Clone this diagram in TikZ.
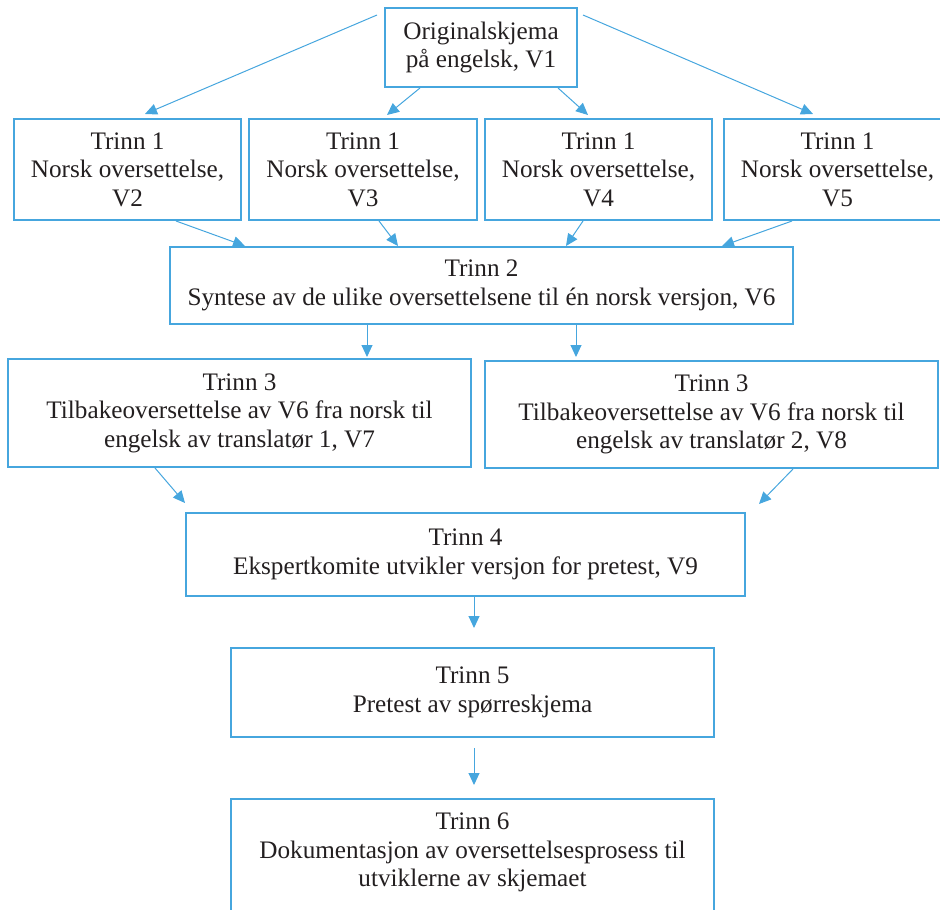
\documentclass[tikz,border=0pt]{standalone}
\usepackage{fontspec}
\setmainfont{Liberation Serif}
\usetikzlibrary{arrows.meta,calc}
\definecolor{flowblue}{RGB}{70,166,222}
\definecolor{inktext}{RGB}{35,31,32}
\begin{document}
\begin{tikzpicture}[x=0.5pt,y=-0.5pt,
  stepbox/.style={draw=flowblue,line width=1pt,align=center,text=inktext,
    font=\fontsize{12.6}{14.25}\selectfont,inner sep=0pt},
  flow/.style={draw=flowblue,line width=0.5pt,-{Triangle[length=6pt,width=5.5pt]}}]
\useasboundingbox (0,0) rectangle (940,909);
\clip (0,0) rectangle (940,909);
\node[stepbox,minimum width=96pt,minimum height=39.5pt] (v1) at (481,47.5)
  {Originalskjema\\på engelsk, V1};
\node[stepbox,minimum width=113.5pt,minimum height=50.5pt] (v2) at (127.5,169.5)
  {Trinn 1\\Norsk oversettelse,\\V2};
\node[stepbox,minimum width=114pt,minimum height=50.5pt] (v3) at (363,169.5)
  {Trinn 1\\Norsk oversettelse,\\V3};
\node[stepbox,minimum width=113.5pt,minimum height=50.5pt] (v4) at (598.5,169.5)
  {Trinn 1\\Norsk oversettelse,\\V4};
\node[stepbox,minimum width=113.5pt,minimum height=50.5pt] (v5) at (837.5,169.5)
  {Trinn 1\\Norsk oversettelse,\\V5};
\node[stepbox,minimum width=311.5pt,minimum height=38.5pt] (t2) at (481.5,285.5)
  {Trinn 2\\Syntese av de ulike oversettelsene til én norsk versjon, V6};
\node[stepbox,minimum width=231.5pt,minimum height=54pt] (t3a) at (239.5,413)
  {Trinn 3\\Tilbakeoversettelse av V6 fra norsk til\\engelsk av translatør 1, V7};
\node[stepbox,minimum width=226.5pt,minimum height=53.5pt] (t3b) at (711.5,414.5)
  {Trinn 3\\Tilbakeoversettelse av V6 fra norsk til\\engelsk av translatør 2, V8};
\node[stepbox,minimum width=279.5pt,minimum height=41.5pt] (t4) at (465.5,554.5)
  {Trinn 4\\Ekspertkomite utvikler versjon for pretest, V9};
\node[stepbox,minimum width=241.5pt,minimum height=44.5pt] (t5) at (472.5,692.5)
  {Trinn 5\\Pretest av spørreskjema};
\node[stepbox,minimum width=241.5pt,anchor=north,inner ysep=7pt] (t6) at (472.5,798)
  {Trinn 6\\Dokumentasjon av oversettelsesprosess til\\utviklerne av skjemaet\\ \mbox{}};
% arrows from V1
\draw[flow] ($(v1.north west)+(-7,8)$) -- ($(v2.north)+(17.5,-4)$);
\draw[flow] ($(v1.south west)+(36,0)$) -- ($(v3.north)+(24,-3)$);
\draw[flow] ($(v1.south east)+(-20,0)$) -- ($(v4.north)+(-10.5,-3)$);
\draw[flow] ($(v1.north east)+(5,8)$) -- ($(v5.north)+(-24.5,-4)$);
% Trinn 1 -> Trinn 2
\draw[flow] ($(v2.south)+(48.5,0)$) -- ($(t2.north west)+(76,0)$);
\draw[flow] ($(v3.south)+(16,0)$) -- ($(t2.north west)+(229,0)$);
\draw[flow] ($(v4.south)+(-15.5,0)$) -- ($(t2.north west)+(397,0)$);
\draw[flow] ($(v5.south)+(-45.5,0)$) -- ($(t2.north west)+(553,0)$);
% Trinn 2 -> Trinn 3
\coordinate (s2a) at ($(t2.south west)+(198,0)$);
\coordinate (s2b) at ($(t2.south west)+(407,0)$);
\draw[flow,shorten >=0.5pt] (s2a) -- (s2a |- t3a.north);
\draw[flow,shorten >=1.5pt] (s2b) -- (s2b |- t3b.north);
% Trinn 3 -> Trinn 4
\draw[flow] ($(t3a.south west)+(148,0)$) -- ($(t4.north west)+(0,-9)$);
\draw[flow] ($(t3b.south west)+(309,0)$) -- ($(t4.north east)+(13,-8)$);
% Trinn 4 -> Trinn 5 -> Trinn 6
\coordinate (e5) at ($(t5.north)+(1.5,-19)$);
\draw[flow] (e5 |- t4.south) -- (e5);
\coordinate (e6) at ($(t6.north)+(1.5,-13)$);
\draw[flow] ($(t5.south)+(1.5,10)$) -- (e6);
\end{tikzpicture}
\end{document}
